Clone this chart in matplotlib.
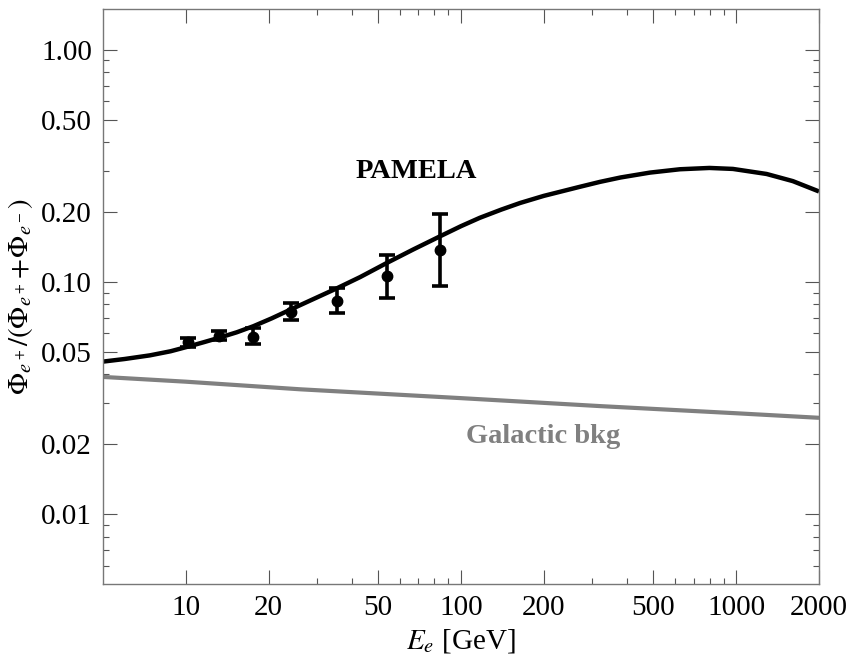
import matplotlib
matplotlib.use("Agg")
import matplotlib.pyplot as plt
from matplotlib.ticker import FixedLocator, FixedFormatter, NullFormatter

plt.rcParams['font.family'] = ['Liberation Serif', 'DejaVu Serif']
plt.rcParams['mathtext.fontset'] = 'stix'

# Model curve
curve_E = [5, 6, 7.4, 8.8, 10.2, 11.6, 13.2, 15.3, 17.6, 20.5, 24.2, 29, 35.3, 43,
           53.9, 67, 83.6, 100, 117, 140, 164, 200, 270, 320, 380, 486, 625, 800,
           973, 1290, 1607, 2000]
curve_f = [0.0454, 0.0466, 0.0483, 0.0503, 0.0527, 0.0550, 0.0575, 0.0607, 0.0645,
           0.0697, 0.0764, 0.0843, 0.0938, 0.105, 0.121, 0.138, 0.157, 0.174, 0.189,
           0.205, 0.219, 0.235, 0.257, 0.270, 0.282, 0.296, 0.306, 0.310, 0.307,
           0.292, 0.272, 0.2455]

# Galactic background
bkg_E = [5, 10, 26, 100, 320, 1000, 2000]
bkg_f = [0.0390, 0.0372, 0.0345, 0.0316, 0.0292, 0.0272, 0.0260]

# PAMELA data
pam_E = [10.2, 13.2, 17.6, 24.2, 35.3, 53.9, 83.6]
pam_f = [0.0550, 0.0588, 0.0581, 0.0744, 0.0826, 0.1058, 0.1378]
pam_hi = [0.0575, 0.0613, 0.0635, 0.0813, 0.0943, 0.1312, 0.1963]
pam_lo = [0.0525, 0.0563, 0.0538, 0.0684, 0.0736, 0.0854, 0.0965]

x_major = [10, 20, 50, 100, 200, 500, 1000, 2000]
x_major_labels = ['10', '20', '50', '100', '200', '500', '1000', '2000']
x_minor = [30, 40, 60, 70, 80, 90, 300, 400, 600, 700, 800, 900]
y_major = [0.01, 0.02, 0.05, 0.1, 0.2, 0.5, 1.0]
y_major_labels = ['0.01', '0.02', '0.05', '0.10', '0.20', '0.50', '1.00']
y_minor = [0.006, 0.007, 0.008, 0.009, 0.03, 0.04, 0.06, 0.07, 0.08, 0.09,
           0.3, 0.4, 0.6, 0.7, 0.8, 0.9]

fig = plt.figure(figsize=(8.54, 6.59), dpi=100)
ax = fig.add_axes([103/854, 1-584/659, (819-103)/854, (584-9)/659])
ax.set_xscale('log')
ax.set_yscale('log')
ax.set_xlim(5, 2000)
ax.set_ylim(0.005, 1.5)

ax.plot(bkg_E, bkg_f, color='#808080', lw=3.0, solid_capstyle='butt')
ax.plot(curve_E, curve_f, color='black', lw=3.2, solid_capstyle='butt',
        solid_joinstyle='round')

yerr = [[f - l for f, l in zip(pam_f, pam_lo)], [h - f for f, h in zip(pam_f, pam_hi)]]
ax.errorbar(pam_E, pam_f, yerr=yerr, fmt='o', color='black', ms=7.5,
            elinewidth=2.6, capsize=6, capthick=2.6)

ax.text(0.438, 0.717, 'PAMELA', transform=ax.transAxes, ha='center', va='center',
        fontsize=20.5, fontweight='bold', color='black')
ax.text(0.6145, 0.257, 'Galactic bkg', transform=ax.transAxes, ha='center',
        va='center', fontsize=20.5, fontweight='bold', color='#808080')

ax.xaxis.set_major_locator(FixedLocator(x_major))
ax.xaxis.set_major_formatter(FixedFormatter(x_major_labels))
ax.xaxis.set_minor_locator(FixedLocator(x_minor))
ax.xaxis.set_minor_formatter(NullFormatter())
ax.yaxis.set_major_locator(FixedLocator(y_major))
ax.yaxis.set_major_formatter(FixedFormatter(y_major_labels))
ax.yaxis.set_minor_locator(FixedLocator(y_minor))
ax.yaxis.set_minor_formatter(NullFormatter())

ax.tick_params(which='both', direction='in', top=True, right=True, color='#555555',
               width=0.8, labelsize=21, labelcolor='black')
ax.tick_params(which='major', length=10, pad=8)
ax.tick_params(which='minor', length=4)
for sp in ax.spines.values():
    sp.set_color('#777777')
    sp.set_linewidth(1.0)

ax.set_xlabel(r'$E_e$ [GeV]', fontsize=21, labelpad=4)
ax.set_ylabel(r'$\Phi_{e^+}/(\Phi_{e^+}\!+\!\Phi_{e^-})$', fontsize=21, labelpad=4)

fig.savefig('out.png', dpi=100)
